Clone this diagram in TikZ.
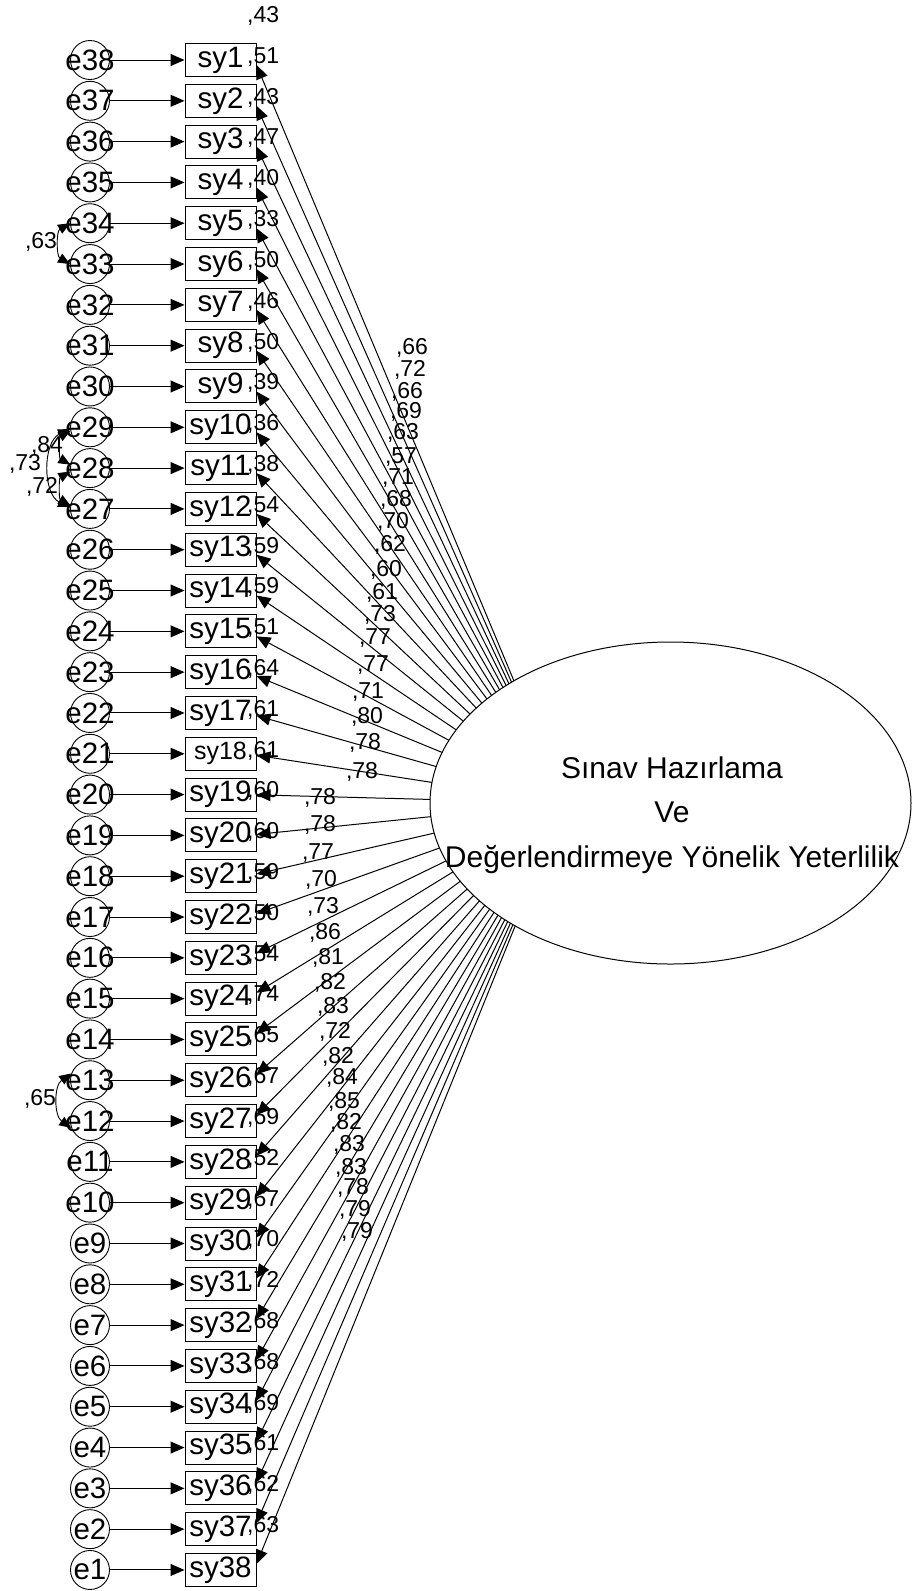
\documentclass[tikz,border=0pt]{standalone}
\usepackage{fontspec}
\setmainfont{Liberation Sans}
\usetikzlibrary{arrows.meta,shapes.geometric,calc}

\tikzset{
  varfont/.style={font=\fontsize{29.5}{35}\selectfont},
  errvar/.style={circle, draw, line width=0.9pt, minimum size=39pt, inner sep=0pt, varfont},
  item/.style={rectangle, draw, line width=1pt, minimum width=71pt, minimum height=33pt, inner sep=0pt},
  latent/.style={ellipse, draw, line width=1pt, minimum width=481pt, minimum height=322pt, inner sep=0pt},
  regpath/.style={line width=1pt, -{Triangle[length=14pt,width=12pt]}},
  covpath/.style={line width=0.9pt, {Triangle[length=12pt,width=10pt]}-{Triangle[length=12pt,width=10pt]}},
  coef/.style={inner sep=0pt, font=\fontsize{23}{27}\selectfont},
}

\begin{document}
\begin{tikzpicture}[x=1pt,y=-1pt]
\path[use as bounding box, fill=white] (0,0) rectangle (911,1591);

% latent factor
\node[latent] (lv) at (670.5,803) {};
\node[font=\fontsize{30}{44.5}\selectfont, align=center, inner sep=0pt] (lvname) at (672,815)
  {Sınav Hazırlama\\Ve\\Değerlendirmeye Yönelik Yeterlilik};
\coordinate (hub) at (565,803);

% error terms, indicators and their paths
\foreach \k in {1,...,38}{
  \pgfmathsetmacro\yk{60+(\k-1)*40.81}
  \pgfmathtruncatemacro\ei{39-\k}
  \pgfmathsetmacro\fs{\k==18 ? 25 : 29.5}
  \node[errvar] (e\ei) at (90,\yk) {\makebox[0pt]{e\ei}};
  \node[item, font=\fontsize{\fs}{35}\selectfont] (sy\k) at (220.5,\yk) {sy\k};
  \draw[regpath] (e\ei) -- (sy\k);
}

% squared multiple correlations
\foreach \k/\v in {1/43,2/51,3/43,4/47,5/40,6/33,7/50,8/46,9/50,10/39,11/36,12/38,13/54,
  14/59,15/59,16/51,17/64,18/61,19/61,20/60,21/60,22/59,23/50,24/54,25/74,26/65,27/67,
  28/69,29/52,30/67,31/70,32/72,33/68,34/68,35/69,36/61,37/62,38/63}{
  \pgfmathsetmacro\yk{60+(\k-1)*40.81-44}
  \node[coef, anchor=west] (rsq\k) at (247,\yk) {,\v};
}

% factor loadings, drawn only outside the factor ellipse
\begin{scope}[even odd rule]
  \clip (0,0) rectangle (911,1591) (670.5,803) ellipse [x radius=240.5, y radius=161];
  \foreach \k in {1,...,38}{
    \pgfmathsetmacro\yk{60+(\k-1)*40.81}
    \pgfmathsetmacro\s{max(-6,min(5,0.03*(803-\yk)))}
    \draw[regpath] (hub) -- ($(sy\k.east)+(0,\s)$);
  }
\end{scope}

\foreach \k/\v/\lx/\ly in {1/66/412/348, 2/72/410/370, 3/66/407/392, 4/69/406/412,
  5/63/403/433, 6/57/401/457, 7/71/398/478, 8/68/396/500, 9/70/393/522, 10/62/390/545,
  11/60/386/570, 12/61/382/593, 13/73/380/615, 14/77/375/638, 15/77/373/665, 16/71/368/692,
  17/80/367/717, 18/78/365/743, 19/78/362/772, 20/78/320/798, 21/78/320/825, 22/77/318/853,
  23/70/321/880, 24/73/323/907, 25/86/325/933, 26/81/328/958, 27/82/330/983, 28/83/333/1007,
  29/72/335/1032, 30/82/338/1057, 31/84/342/1078, 32/85/344/1102, 33/82/346/1123,
  34/83/349/1145, 35/83/351/1168, 36/78/353/1188, 37/79/355/1210, 38/79/357/1232}{
  \node[coef] (ld\k) at (\lx,\ly) {,\v};
}

% error covariances
\draw[covpath] (e34.180) to[bend right=60] (e33.180);
\node[coef] (c3433) at (41,242) {,63};
\draw[covpath] (e29.190) to[bend right=60] (e28.170);
\node[coef] (c2928) at (47,446) {,84};
\draw[covpath] (e28.190) to[bend right=60] (e27.170);
\node[coef] (c2827) at (42,487) {,72};
\draw[covpath] (e29.185) to[bend right=65] (e27.175);
\node[coef] (c2927) at (25,464) {,73};
\draw[covpath] (e13.160) to[bend right=55] (e12.200);
\node[coef] (c1312) at (40,1099) {,65};
\end{tikzpicture}
\end{document}
